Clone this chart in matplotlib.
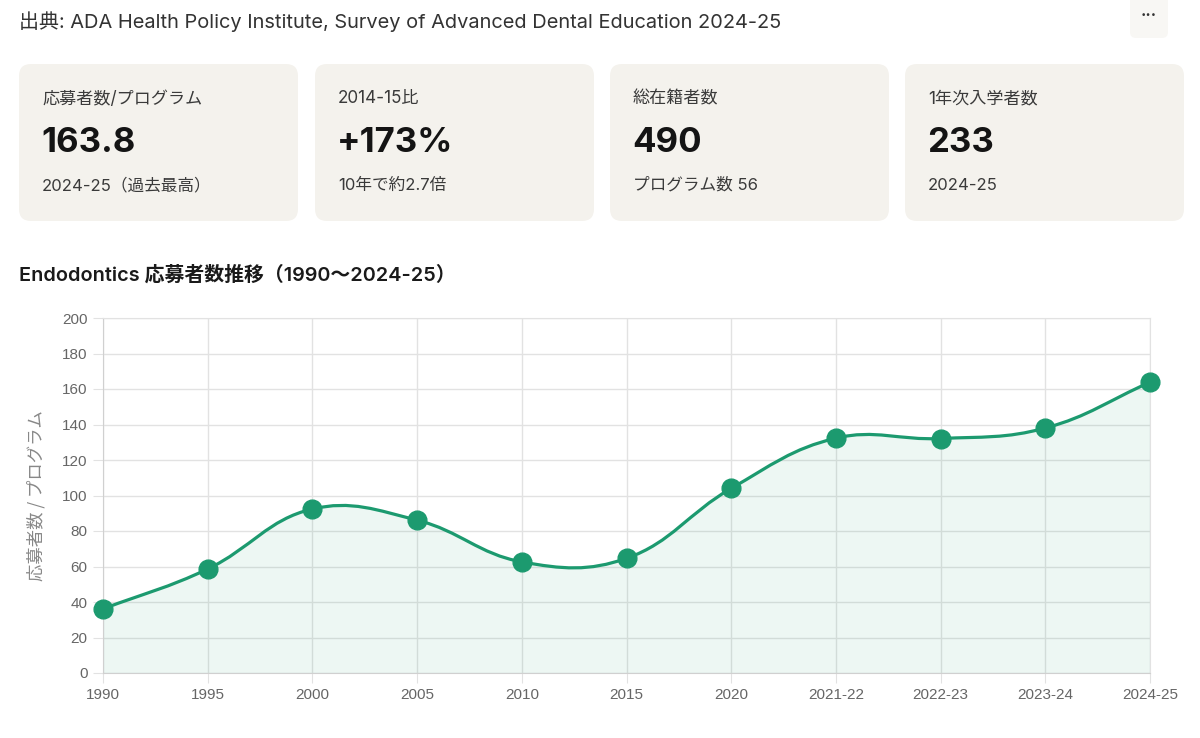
import numpy as np
import matplotlib
matplotlib.use('Agg')
import matplotlib.pyplot as plt
from matplotlib.path import Path
from matplotlib.patches import PathPatch, FancyBboxPatch

plt.rcParams['font.family'] = ['Inter', 'Noto Sans CJK JP', 'DejaVu Sans']

# data
periods = ['1990', '1995', '2000', '2005', '2010', '2015', '2020',
           '2021-22', '2022-23', '2023-24', '2024-25']
applicants_per_program = [36.1, 58.6, 92.4, 86.1, 62.6, 64.6, 104.0,
                          132.3, 132.1, 138.0, 163.8]

card_labels = ['応募者数/プログラム', '2014-15比', '総在籍者数', '1年次入学者数']
card_values = ['163.8', '+173%', '490', '233']
card_notes = ['2024-25（過去最高）', '10年で約2.7倍', 'プログラム数 56', '2024-25']

source_text = '出典: ADA Health Policy Institute, Survey of Advanced Dental Education 2024-25'
chart_title = 'Endodontics 応募者数推移（1990〜2024-25）'
y_label = '応募者数 / プログラム'

green = '#1c9a6f'
W, H = 1200, 738


def spline_controls(xs, ys, sx, sy, t=0.4):
    # same idea as chart.js "tension" curves, distances measured in pixels
    px = np.asarray(xs, float) * sx
    py = np.asarray(ys, float) * sy
    n = len(px)
    before, after = [], []
    for i in range(n):
        p = max(i - 1, 0)
        q = min(i + 1, n - 1)
        d01 = np.hypot(px[i] - px[p], py[i] - py[p])
        d12 = np.hypot(px[q] - px[i], py[q] - py[i])
        tot = d01 + d12
        s01 = d01 / tot if tot else 0
        s12 = d12 / tot if tot else 0
        fa, fb = t * s01, t * s12
        before.append(((px[i] - fa * (px[q] - px[p])) / sx, (py[i] - fa * (py[q] - py[p])) / sy))
        after.append(((px[i] + fb * (px[q] - px[p])) / sx, (py[i] + fb * (py[q] - py[p])) / sy))
    return before, after


fig = plt.figure(figsize=(12, 7.38), dpi=100, facecolor='white')

# page layer in pixel coordinates
bg = fig.add_axes([0, 0, 1, 1])
bg.set_xlim(0, W)
bg.set_ylim(H, 0)
bg.axis('off')

bg.text(19, 22, source_text, fontsize=14.4, color='#333333', va='center', ha='left')
bg.add_patch(FancyBboxPatch((1130, -6), 38, 44, boxstyle='round,pad=0,rounding_size=6',
                            fc='#f8f7f4', ec='none'))
bg.text(1149, 16, '•••', fontsize=6.5, color='#333333', va='center', ha='center',
        family='DejaVu Sans')

card_x = [19, 315, 610, 905]
card_w = 279
for cx, lab, val, note in zip(card_x, card_labels, card_values, card_notes):
    bg.add_patch(FancyBboxPatch((cx, 64), card_w, 157,
                                boxstyle='round,pad=0,rounding_size=12',
                                fc='#f4f2ed', ec='none'))
    bg.text(cx + 23, 99, lab, fontsize=12.3, color='#3a3a3a', va='center', ha='left')
    bg.text(cx + 22, 143, val, fontsize=25, fontweight='bold', color='#141414',
            va='center', ha='left')
    bg.text(cx + 23, 185, note, fontsize=12, color='#3a3a3a', va='center', ha='left')

bg.text(19, 275, chart_title, fontsize=14.3, fontweight='semibold', color='#1a1a1a',
        va='center', ha='left')

# chart
ax = fig.add_axes([103 / W, 1 - 673 / H, (1150 - 103) / W, (673 - 318) / H])
ax.set_facecolor('none')
xs = np.arange(len(periods))
ys = applicants_per_program
ax.set_xlim(0, len(periods) - 1)
ax.set_ylim(0, 200)

sx = (1150 - 103) / (len(periods) - 1)
sy = (673 - 318) / 200
before, after = spline_controls(xs, ys, sx, sy)

verts = [(xs[0], ys[0])]
codes = [Path.MOVETO]
for i in range(1, len(xs)):
    verts += [after[i - 1], before[i], (xs[i], ys[i])]
    codes += [Path.CURVE4] * 3
line_path = Path(verts, codes)
fill_path = Path(verts + [(xs[-1], 0), (xs[0], 0), (xs[0], ys[0])],
                 codes + [Path.LINETO, Path.LINETO, Path.CLOSEPOLY])

ax.add_patch(PathPatch(fill_path, fc=green, alpha=0.08, ec='none', zorder=2))
ax.add_patch(PathPatch(line_path, fc='none', ec=green, lw=2.3, zorder=3,
                       capstyle='round', joinstyle='round'))
ax.plot(xs, ys, 'o', color=green, markersize=13.5, zorder=4, clip_on=False)

ax.set_xticks(xs)
ax.set_xticklabels(periods)
ax.set_yticks(np.arange(0, 201, 20))
ax.grid(True, color='#e2e2e2', lw=1)
ax.set_axisbelow(True)
for s in ['top', 'right']:
    ax.spines[s].set_color('#e2e2e2')
for s in ['left', 'bottom']:
    ax.spines[s].set_color('#d0d0d0')
ax.tick_params(axis='both', length=7, color='#e2e2e2', labelsize=11,
               labelcolor='#666666', pad=4)
for lbl in ax.get_xticklabels() + ax.get_yticklabels():
    lbl.set_family(['Liberation Sans', 'DejaVu Sans'])
ax.set_ylabel(y_label, fontsize=12.5, color='#888888', labelpad=12,
              family=['Noto Sans CJK JP', 'DejaVu Sans'])

fig.savefig('out.png', dpi=100, facecolor='white')
